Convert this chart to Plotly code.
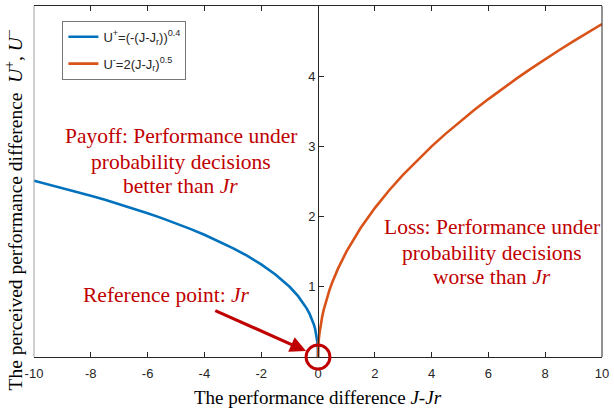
import plotly.graph_objects as go

# Data
x_gain = [-10, -9.5, -9, -8.5, -8, -7.5, -7, -6.5, -6, -5.5, -5, -4.5, -4, -3.5, -3, -2.5, -2, -1.5, -1,
          -0.7, -0.5, -0.4, -0.3, -0.2, -0.15, -0.1, -0.05, -0.02, -0.005, 0]
u_gain = [2.512, 2.461, 2.408, 2.354, 2.297, 2.239, 2.178, 2.114, 2.048, 1.978, 1.904, 1.825, 1.741, 1.651,
          1.552, 1.443, 1.320, 1.176, 1.0, 0.867, 0.758, 0.693, 0.618, 0.525, 0.468, 0.398, 0.302, 0.209, 0.120, 0]

x_loss = [0, 0.005, 0.02, 0.05, 0.1, 0.15, 0.2, 0.3, 0.4, 0.5, 0.7, 1, 1.5, 2, 2.5, 3, 3.5, 4, 4.5, 5,
          5.5, 6, 6.5, 7, 7.5, 8, 8.5, 9, 9.5, 10]
u_loss = [0, 0.106, 0.212, 0.335, 0.474, 0.581, 0.671, 0.822, 0.949, 1.061, 1.255, 1.5, 1.837, 2.121, 2.372,
          2.598, 2.806, 3.0, 3.182, 3.354, 3.518, 3.674, 3.824, 3.969, 4.108, 4.243, 4.373, 4.5, 4.623, 4.743]

x_ticks = [-10, -8, -6, -4, -2, 0, 2, 4, 6, 8, 10]
x_tick_text = ["-10", "-8", "-6", "-4", "-2", "0", "2", "4", "6", "8", "10"]
y_ticks = [1, 2, 3, 4]

name_gain = "U<sup>+</sup>=(-(J-J<sub>r</sub>))<sup>0.4</sup>"
name_loss = "U<sup>-</sup>=2(J-J<sub>r</sub>)<sup>0.5</sup>"

payoff_lines = ["Payoff: Performance under", "probability decisions", "better than <i>Jr</i>"]
loss_lines = ["Loss: Performance under", "probability decisions", "worse than <i>Jr</i>"]
ref_text = "Reference point: <i>Jr</i>"

RED = "#C00000"
SERIF = "Liberation Serif, Times New Roman, serif"
SANS = "Liberation Sans, Arial, sans-serif"

fig = go.Figure()
fig.add_trace(go.Scatter(x=x_gain, y=u_gain, mode="lines", name=name_gain, legendgroup="g1",
                         line=dict(color="#0072BD", width=2.6)))
fig.add_trace(go.Scatter(x=x_loss, y=u_loss, mode="lines", name=name_loss, legendgroup="g2",
                         line=dict(color="#D95319", width=2.6)))

fig.update_layout(
    width=614, height=416,
    margin=dict(l=34, r=8, t=5, b=59),
    paper_bgcolor="white", plot_bgcolor="white",
    showlegend=True,
    legend=dict(x=0.05, y=0.958, xanchor="left", yanchor="top",
                bgcolor="white", bordercolor="#777777", borderwidth=1,
                font=dict(family=SANS, size=13, color="#262626"),
                tracegroupgap=7),
    xaxis=dict(range=[-10, 10], tickvals=x_ticks, ticktext=x_tick_text,
               ticks="inside", ticklen=5, ticklabelstandoff=4,
               tickcolor="#262626", showline=True, linecolor="#262626", linewidth=1,
               mirror="ticks", showgrid=False, zeroline=False,
               tickfont=dict(family=SANS, size=13, color="#262626")),
    yaxis=dict(range=[0, 5], tickvals=y_ticks, ticks="inside", ticklen=5,
               tickcolor="#262626", showline=True, linecolor="#262626", linewidth=1,
               anchor="free", position=0.5, showgrid=False, zeroline=False,
               tickfont=dict(family=SANS, size=13, color="#262626")),
)

# borders
fig.add_shape(type="line", xref="paper", yref="paper", x0=0, x1=0, y0=0, y1=1,
              line=dict(color="#A0A0A0", width=1))
fig.add_shape(type="line", xref="paper", yref="paper", x0=1, x1=1, y0=0, y1=1,
              line=dict(color="#262626", width=1))
# reference circle
fig.add_shape(type="circle", xref="paper", yref="paper",
              x0=0.5 - 12 / 572, x1=0.5 + 12 / 572, y0=-12 / 352, y1=12 / 352,
              line=dict(color=RED, width=3))

ann_font = dict(family=SERIF, size=21.5, color=RED)
for txt, yy in zip(payoff_lines, [3.153, 2.784, 2.429]):
    fig.add_annotation(x=-4.83, y=yy, xref="x", yref="y", showarrow=False,
                       text=txt, font=ann_font, yanchor="middle")
for txt, yy in zip(loss_lines, [1.847, 1.477, 1.136]):
    fig.add_annotation(x=6.12, y=yy, xref="x", yref="y", showarrow=False,
                       text=txt, font=ann_font, yanchor="middle")
fig.add_annotation(x=-5.35, y=0.88, xref="x", yref="y", showarrow=False,
                   text=ref_text, font=ann_font, yanchor="middle")
fig.add_annotation(x=-0.42, y=0.085, xref="x", yref="y", ax=-3.67, ay=0.67,
                   axref="x", ayref="y", text="", showarrow=True,
                   arrowhead=2, arrowsize=1, arrowwidth=3.2, arrowcolor=RED)

# axis titles
fig.add_annotation(x=-0.035, y=0.418, xref="paper", yref="paper", showarrow=False,
                   textangle=-90, xanchor="center", yanchor="middle",
                   text="The perceived performance difference  <i>U</i><sup>+</sup>, <i>U</i><sup>−</sup>",
                   font=dict(family=SERIF, size=19.5, color="#000000"))
fig.add_annotation(x=0.5, y=-0.114, xref="paper", yref="paper", showarrow=False,
                   xanchor="center", yanchor="middle",
                   text="The performance difference <i>J-Jr</i>",
                   font=dict(family=SERIF, size=19, color="#000000"))

fig.write_html("out.html")
